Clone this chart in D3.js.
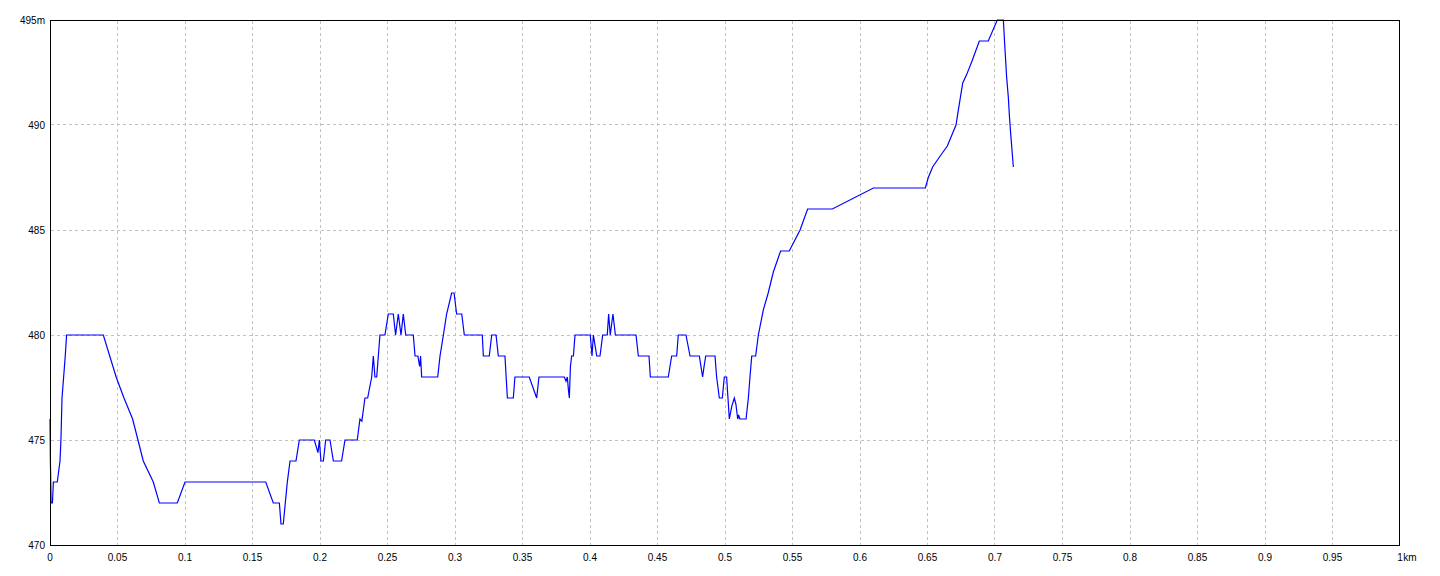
<!DOCTYPE html>
<html>
<head>
<meta charset="utf-8">
<script src="https://cdn.jsdelivr.net/npm/d3@7"></script>
<style>
  html, body { margin: 0; padding: 0; background: #ffffff; }
  svg { display: block; }
  text { font-family: "Liberation Sans", Arial, sans-serif; font-size: 10px; fill: #000; }
</style>
</head>
<body>
<svg id="chart" width="1440" height="576"></svg>
<script>
// distance along route (km)
const distances = [
  0, 0.0003, 0.0008, 0.0018, 0.0025, 0.0054, 0.0074, 0.0081, 0.0089, 0.0101,
  0.0113, 0.0123, 0.0395, 0.049, 0.0548, 0.0612, 0.0691, 0.0765, 0.081, 0.0943,
  0.1, 0.1598, 0.1654, 0.1699, 0.1711, 0.1728, 0.1758, 0.1778, 0.1822, 0.1847,
  0.1958, 0.1985, 0.1995, 0.2007, 0.2025, 0.2042, 0.2074, 0.2099, 0.216, 0.2185,
  0.2276, 0.2296, 0.231, 0.2333, 0.2353, 0.2383, 0.2395, 0.2407, 0.242, 0.2444,
  0.2481, 0.2506, 0.2543, 0.256, 0.258, 0.26, 0.2617, 0.2635, 0.2691, 0.2704,
  0.2725, 0.2738, 0.2745, 0.2753, 0.2872, 0.2889, 0.2914, 0.2938, 0.2975, 0.2993,
  0.3012, 0.305, 0.3069, 0.3202, 0.321, 0.3254, 0.3272, 0.3304, 0.3321, 0.337,
  0.3388, 0.3432, 0.3444, 0.355, 0.3605, 0.3622, 0.381, 0.3822, 0.3832, 0.384,
  0.3847, 0.3855, 0.3864, 0.3877, 0.3889, 0.4002, 0.4015, 0.4025, 0.405, 0.4074,
  0.4094, 0.4128, 0.4138, 0.415, 0.417, 0.4188, 0.4341, 0.4358, 0.4437, 0.4447,
  0.458, 0.4605, 0.4642, 0.4654, 0.4711, 0.4741, 0.481, 0.4834, 0.4845, 0.4857,
  0.4926, 0.4938, 0.4958, 0.498, 0.4995, 0.5012, 0.5032, 0.505, 0.5069, 0.5081,
  0.5094, 0.5101, 0.511, 0.5156, 0.5173, 0.5185, 0.5198, 0.5227, 0.5247, 0.5284,
  0.532, 0.5358, 0.5412, 0.5476, 0.5556, 0.5612, 0.5795, 0.6099, 0.6484, 0.6506,
  0.6538, 0.6591, 0.6647, 0.6711, 0.6728, 0.6761, 0.679, 0.6827, 0.6884, 0.695,
  0.7017, 0.7062, 0.7074, 0.7086, 0.7099, 0.7106, 0.7116, 0.7136
];
// elevation (m)
const elevations = [
  476, 474, 472, 472, 473, 473, 474, 475, 477, 478,
  479, 480, 480, 478, 477, 476, 474, 473, 472, 472,
  473, 473, 472, 472, 471, 471, 473, 474, 474, 475,
  475, 474.4, 475, 474, 474, 475, 475, 474, 474, 475,
  475, 476, 475.9, 477, 477, 478, 479, 478, 478, 480,
  480, 481, 481, 480, 481, 480, 481, 480, 480, 479,
  479, 478.5, 479, 478, 478, 479, 480, 481, 482, 482,
  481, 481, 480, 480, 479, 479, 480, 480, 479, 479,
  477, 477, 478, 478, 477, 478, 478, 477.8, 478, 477.4,
  477, 478.5, 479, 479, 480, 480, 479, 480, 479, 479,
  480, 480, 481, 480, 481, 480, 480, 479, 479, 478,
  478, 479, 479, 480, 480, 479, 479, 478, 478.5, 479,
  479, 478, 477, 477, 478, 478, 476, 476.6, 477, 476.7,
  476, 476.2, 476, 476, 477, 478, 479, 479, 480, 481.2,
  482, 483, 484, 484, 485, 486, 486, 487, 487, 487.5,
  488, 488.5, 489, 490, 490.7, 492, 492.4, 493, 494, 494,
  495, 495, 493.6, 492.3, 491.3, 490.5, 489.6, 488
];
const xTicks = [0, 0.05, 0.1, 0.15, 0.2, 0.25, 0.3, 0.35, 0.4, 0.45, 0.5,
                0.55, 0.6, 0.65, 0.7, 0.75, 0.8, 0.85, 0.9, 0.95, 1];
const xTickLabels = ["0", "0.05", "0.1", "0.15", "0.2", "0.25", "0.3", "0.35", "0.4", "0.45", "0.5",
                     "0.55", "0.6", "0.65", "0.7", "0.75", "0.8", "0.85", "0.9", "0.95", "1"];
const yTicks = [470, 475, 480, 485, 490, 495];
const yTickLabels = ["470", "475", "480", "485", "490", "495m"];
const xUnit = "km";

(function () {
const svg = d3.select("#chart");
const pL = 50, pR = 1400, pT = 20, pB = 545;

const x = d3.scaleLinear().domain([0, 1]).range([pL, pR]);
const y = d3.scaleLinear().domain([470, 495]).range([pB, pT]);
const px = v => Math.floor(v) + 0.5;

// grid
const grid = svg.append("g").attr("stroke", "#c0c0c0").attr("stroke-width", 1)
  .attr("stroke-dasharray", "3,3").attr("shape-rendering", "crispEdges");
grid.selectAll("line.v").data(xTicks.filter(t => t > 0 && t < 1)).enter().append("line")
  .attr("class", "v")
  .attr("x1", d => px(x(d))).attr("x2", d => px(x(d)))
  .attr("y1", pT + 1).attr("y2", pB);
grid.selectAll("line.h").data(yTicks.filter(t => t > 470 && t < 495)).enter().append("line")
  .attr("class", "h")
  .attr("y1", d => px(y(d))).attr("y2", d => px(y(d)))
  .attr("x1", pL + 1).attr("x2", pR);

// elevation line
const line = d3.line().x((d, i) => x(distances[i])).y(d => y(d));
svg.append("path")
  .datum(elevations)
  .attr("d", line)
  .attr("fill", "none")
  .attr("stroke", "#0000ff")
  .attr("stroke-width", 1.2);

// frame
svg.append("rect")
  .attr("x", px(pL)).attr("y", px(pT))
  .attr("width", pR - pL - 1).attr("height", pB - pT)
  .attr("fill", "none").attr("stroke", "#000").attr("stroke-width", 1)
  .attr("shape-rendering", "crispEdges");

// y labels
svg.append("g").selectAll("text").data(yTicks).enter().append("text")
  .attr("x", 45)
  .attr("y", d => y(d) + 3.6)
  .attr("text-anchor", "end")
  .text((d, i) => yTickLabels[i]);

// x labels
const xl = svg.append("g");
xl.selectAll("text").data(xTicks).enter().append("text")
  .attr("x", d => x(d))
  .attr("y", 561)
  .attr("text-anchor", "middle")
  .text((d, i) => xTickLabels[i]);
const lastNode = xl.selectAll("text").nodes()[xTicks.length - 1];
const lastW = lastNode.getComputedTextLength();
xl.append("text")
  .attr("x", x(1) + lastW / 2 + 0.5)
  .attr("y", 561)
  .attr("text-anchor", "start")
  .text(xUnit);
})();
</script>
</body>
</html>
